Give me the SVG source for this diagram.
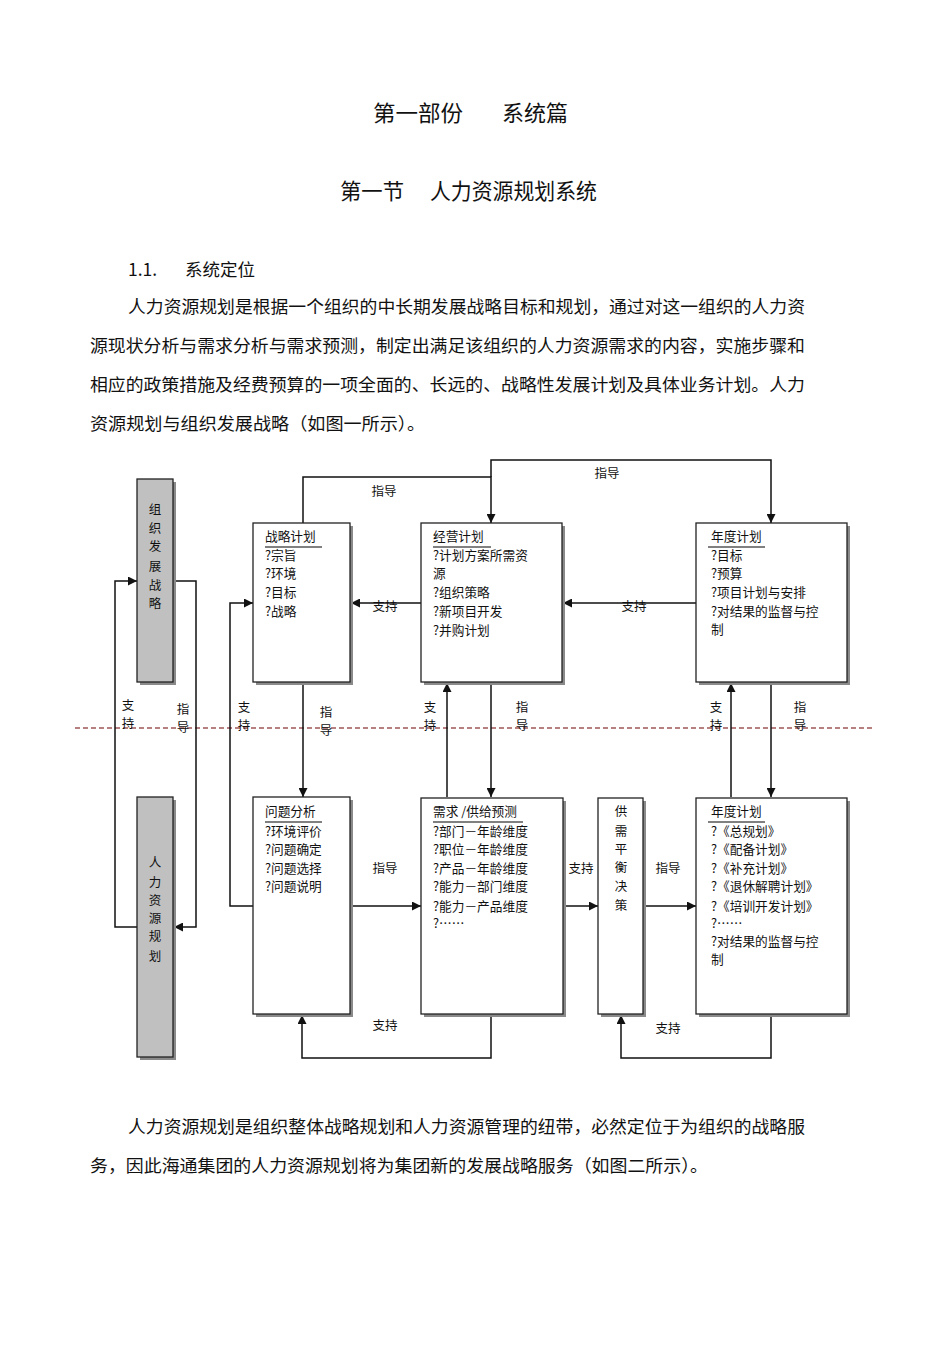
<svg xmlns="http://www.w3.org/2000/svg" width="950" height="1345" viewBox="0 0 950 1345">
<defs>
<style>
.t{font-family:"Noto Sans CJK SC","Liberation Sans",sans-serif;fill:#111}
.h1{font-size:22px}
.p{font-size:17.5px}
.s{font-size:12.7px}
.lbl{font-size:12.5px}
.box{fill:#fff;stroke:#222;stroke-width:1.3}
.gbox{fill:#c0c0c0;stroke:#222;stroke-width:1.3}
.sh{fill:#8a8a8a}
.ul{stroke:#808080;stroke-width:2}
.c{fill:none;stroke:#111;stroke-width:1.5}
</style>
<marker id="ah" viewBox="0 0 10 10" refX="10" refY="5" markerWidth="9" markerHeight="9" markerUnits="userSpaceOnUse" orient="auto"><path d="M0,0 L10,5 L0,10 z" fill="#111"/></marker>
</defs>
<rect width="950" height="1345" fill="#fff"/>

<g id="header">
<text class="t h1" x="373" y="121" textLength="90" lengthAdjust="spacingAndGlyphs">第一部份</text>
<text class="t h1" x="502" y="121" textLength="66" lengthAdjust="spacingAndGlyphs">系统篇</text>
<text class="t h1" x="340" y="199" textLength="64" lengthAdjust="spacingAndGlyphs">第一节</text>
<text class="t h1" x="430" y="199" textLength="167" lengthAdjust="spacingAndGlyphs">人力资源规划系统</text>
<text class="t p" x="128" y="276" font-family="Liberation Sans">1.1.</text>
<text class="t p" x="185" y="276">系统定位</text>
<text class="t p" x="128" y="313" textLength="677" lengthAdjust="spacingAndGlyphs">人力资源规划是根据一个组织的中长期发展战略目标和规划，通过对这一组织的人力资</text>
<text class="t p" x="90" y="352" textLength="715" lengthAdjust="spacingAndGlyphs">源现状分析与需求分析与需求预测，制定出满足该组织的人力资源需求的内容，实施步骤和</text>
<text class="t p" x="90" y="391" textLength="715" lengthAdjust="spacingAndGlyphs">相应的政策措施及经费预算的一项全面的、长远的、战略性发展计划及具体业务计划。人力</text>
<text class="t p" x="90" y="430" textLength="335" lengthAdjust="spacingAndGlyphs">资源规划与组织发展战略（如图一所示）。</text>
</g>

<line x1="75" y1="728" x2="875" y2="728" stroke="#a05555" stroke-width="1.3" stroke-dasharray="5,3"/>

<g id="connectors">
<path class="c" d="M137,927 H115 V581 H137" marker-end="url(#ah)"/>
<path class="c" d="M173,581 H196 V927 H174" marker-end="url(#ah)"/>
<path class="c" d="M303,523 V477 H491 V523" marker-end="url(#ah)"/>
<path class="c" d="M491,477 V460 H771 V523" marker-end="url(#ah)"/>
<path class="c" d="M421,603 H351" marker-end="url(#ah)"/>
<path class="c" d="M696,603 H563" marker-end="url(#ah)"/>
<path class="c" d="M303,682 V797" marker-end="url(#ah)"/>
<path class="c" d="M253,906 H230 V603 H253" marker-end="url(#ah)"/>
<path class="c" d="M447,797 V683" marker-end="url(#ah)"/>
<path class="c" d="M491,682 V797" marker-end="url(#ah)"/>
<path class="c" d="M731,797 V683" marker-end="url(#ah)"/>
<path class="c" d="M771,682 V797" marker-end="url(#ah)"/>
<path class="c" d="M350,906 H421" marker-end="url(#ah)"/>
<path class="c" d="M563,906 H598" marker-end="url(#ah)"/>
<path class="c" d="M643,906 H696" marker-end="url(#ah)"/>
<path class="c" d="M491,1014 V1058 H302 V1015" marker-end="url(#ah)"/>
<path class="c" d="M771,1014 V1058 H621 V1015" marker-end="url(#ah)"/>
</g>

<g id="connector-labels" class="t lbl">
<text x="384" y="496" text-anchor="middle">指导</text>
<text x="607" y="478" text-anchor="middle">指导</text>
<text x="385" y="611" text-anchor="middle">支持</text>
<text x="634" y="611" text-anchor="middle">支持</text>
<text x="128" y="710" text-anchor="middle">支</text><text x="128" y="728" text-anchor="middle">持</text>
<text x="183" y="714" text-anchor="middle">指</text><text x="183" y="732" text-anchor="middle">导</text>
<text x="244" y="712" text-anchor="middle">支</text><text x="244" y="730" text-anchor="middle">持</text>
<text x="326" y="717" text-anchor="middle">指</text><text x="326" y="735" text-anchor="middle">导</text>
<text x="430" y="712" text-anchor="middle">支</text><text x="430" y="730" text-anchor="middle">持</text>
<text x="522" y="712" text-anchor="middle">指</text><text x="522" y="730" text-anchor="middle">导</text>
<text x="716" y="712" text-anchor="middle">支</text><text x="716" y="730" text-anchor="middle">持</text>
<text x="800" y="712" text-anchor="middle">指</text><text x="800" y="730" text-anchor="middle">导</text>
<text x="385" y="873" text-anchor="middle">指导</text>
<text x="581" y="873" text-anchor="middle">支持</text>
<text x="668" y="873" text-anchor="middle">指导</text>
<text x="385" y="1030" text-anchor="middle">支持</text>
<text x="668" y="1033" text-anchor="middle">支持</text>
</g>

<g id="org-strategy">
<rect class="sh" x="140" y="482" width="36" height="203"/>
<rect class="gbox" x="137" y="479" width="36" height="203"/>
<g class="t lbl" text-anchor="middle">
<text x="155" y="514">组</text><text x="155" y="533">织</text><text x="155" y="551">发</text><text x="155" y="571">展</text><text x="155" y="590">战</text><text x="155" y="608">略</text>
</g>
</g>

<g id="hr-planning">
<rect class="sh" x="140" y="800" width="36" height="260"/>
<rect class="gbox" x="137" y="797" width="36" height="260"/>
<g class="t lbl" text-anchor="middle">
<text x="155" y="867">人</text><text x="155" y="887">力</text><text x="155" y="905">资</text><text x="155" y="923">源</text><text x="155" y="941">规</text><text x="155" y="961">划</text>
</g>
</g>

<g id="strategic-plan">
<rect class="sh" x="256" y="526" width="97" height="159"/>
<rect class="box" x="253" y="523" width="97" height="159"/>
<line class="ul" x1="265" y1="547" x2="322" y2="547"/>
<g class="t s">
<text x="265" y="541">战略计划</text>
<text x="265" y="560">?宗旨</text>
<text x="265" y="578">?环境</text>
<text x="265" y="597">?目标</text>
<text x="265" y="616">?战略</text>
</g>
</g>

<g id="business-plan">
<rect class="sh" x="424" y="526" width="141" height="159"/>
<rect class="box" x="421" y="523" width="141" height="159"/>
<line class="ul" x1="433" y1="547" x2="491" y2="547"/>
<g class="t s">
<text x="433" y="541">经营计划</text>
<text x="433" y="560">?计划方案所需资</text>
<text x="433" y="578">源</text>
<text x="433" y="597">?组织策略</text>
<text x="433" y="616">?新项目开发</text>
<text x="433" y="635">?并购计划</text>
</g>
</g>

<g id="annual-plan-top">
<rect class="sh" x="699" y="526" width="151" height="159"/>
<rect class="box" x="696" y="523" width="151" height="159"/>
<line class="ul" x1="708" y1="547" x2="765" y2="547"/>
<g class="t s">
<text x="711" y="541">年度计划</text>
<text x="711" y="560">?目标</text>
<text x="711" y="578">?预算</text>
<text x="711" y="597">?项目计划与安排</text>
<text x="711" y="616">?对结果的监督与控</text>
<text x="711" y="634">制</text>
</g>
</g>

<g id="problem-analysis">
<rect class="sh" x="256" y="800" width="97" height="217"/>
<rect class="box" x="253" y="797" width="97" height="217"/>
<line class="ul" x1="265" y1="822" x2="322" y2="822"/>
<g class="t s">
<text x="265" y="816">问题分析</text>
<text x="265" y="836">?环境评价</text>
<text x="265" y="854">?问题确定</text>
<text x="265" y="873">?问题选择</text>
<text x="265" y="891">?问题说明</text>
</g>
</g>

<g id="demand-supply">
<rect class="sh" x="424" y="801" width="142" height="216"/>
<rect class="box" x="421" y="798" width="142" height="216"/>
<line class="ul" x1="433" y1="822" x2="523" y2="822"/>
<g class="t s">
<text x="433" y="816">需求 /供给预测</text>
<text x="433" y="836">?部门－年龄维度</text>
<text x="433" y="854">?职位－年龄维度</text>
<text x="433" y="873">?产品－年龄维度</text>
<text x="433" y="891">?能力－部门维度</text>
<text x="433" y="911">?能力－产品维度</text>
<text x="433" y="928">?……</text>
</g>
</g>

<g id="balance-decision">
<rect class="sh" x="601" y="801" width="45" height="216"/>
<rect class="box" x="598" y="798" width="45" height="216"/>
<g class="t lbl" text-anchor="middle">
<text x="621" y="816">供</text><text x="621" y="836">需</text><text x="621" y="854">平</text><text x="621" y="872">衡</text><text x="621" y="891">决</text><text x="621" y="910">策</text>
</g>
</g>

<g id="annual-plan-bottom">
<rect class="sh" x="699" y="801" width="151" height="216"/>
<rect class="box" x="696" y="798" width="151" height="216"/>
<line class="ul" x1="708" y1="822" x2="765" y2="822"/>
<g class="t s">
<text x="711" y="816">年度计划</text>
<text x="711" y="836">?《总规划》</text>
<text x="711" y="854">?《配备计划》</text>
<text x="711" y="873">?《补充计划》</text>
<text x="711" y="891">?《退休解聘计划》</text>
<text x="711" y="911">?《培训开发计划》</text>
<text x="711" y="928">?……</text>
<text x="711" y="946">?对结果的监督与控</text>
<text x="711" y="964">制</text>
</g>
</g>

<g id="footer">
<text class="t p" x="128" y="1133" textLength="677" lengthAdjust="spacingAndGlyphs">人力资源规划是组织整体战略规划和人力资源管理的纽带，必然定位于为组织的战略服</text>
<text class="t p" x="90" y="1172" textLength="618" lengthAdjust="spacingAndGlyphs">务，因此海通集团的人力资源规划将为集团新的发展战略服务（如图二所示）。</text>
</g>
</svg>
